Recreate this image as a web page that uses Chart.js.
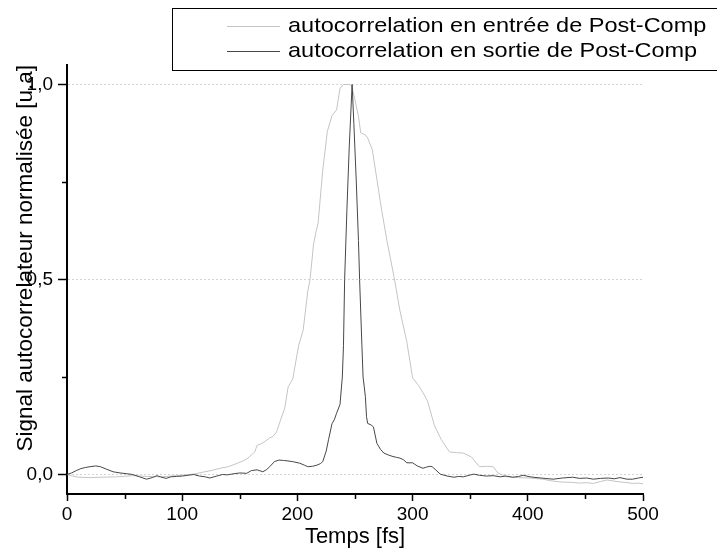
<!DOCTYPE html>
<html>
<head>
<meta charset="utf-8">
<title>Autocorrélation Post-Comp</title>
<script src="https://cdn.jsdelivr.net/npm/chart.js@4/dist/chart.umd.min.js"></script>
<style>
  html, body { margin: 0; padding: 0; background: #fff; }
  canvas { display: block; }
</style>
</head>
<body>
<canvas id="myChart" width="717" height="557"></canvas>
<script>
// legend labels
const seriesLabels = [
	"autocorrelation en entrée de Post-Comp",
	"autocorrelation en sortie de Post-Comp"
];

// entrée (light grey), time in fs / normalised signal
const timeIn = [
	0, 5, 10, 20, 30, 43, 57, 70, 81, 95, 110, 118, 125, 133, 140, 148, 153, 157, 160, 163,
	165, 168, 172, 176, 179, 182, 186, 189, 192, 196, 201, 205, 209, 211, 214, 216, 218, 222, 226, 230,
	234, 237, 240, 245, 247, 250, 253, 255, 259, 261, 265, 269, 273, 278, 284, 289, 295, 300, 305, 309,
	313, 319, 325, 332, 338, 344, 351, 358, 365, 370, 374, 382, 392, 402, 413, 420, 428, 437, 445, 452,
	457, 463, 469, 475, 480, 487, 491, 496, 500
];
const signalIn = [
	0.000, -0.004, -0.007, -0.008, -0.007, -0.006, -0.003, -0.005, -0.006, -0.003, 0.001, 0.006, 0.010, 0.016, 0.020, 0.029, 0.035, 0.042, 0.050, 0.058,
	0.075, 0.078, 0.085, 0.094, 0.098, 0.110, 0.145, 0.170, 0.225, 0.245, 0.330, 0.370, 0.470, 0.500, 0.590, 0.620, 0.645, 0.780, 0.880, 0.920,
	0.935, 0.990, 1.000, 1.000, 0.998, 0.960, 0.918, 0.876, 0.871, 0.863, 0.833, 0.757, 0.680, 0.595, 0.505, 0.420, 0.340, 0.248, 0.229, 0.210,
	0.188, 0.125, 0.089, 0.058, 0.056, 0.055, 0.045, 0.020, 0.021, 0.020, 0.004, -0.006, -0.008, -0.009, -0.012, -0.016, -0.019, -0.020, -0.022, -0.021,
	-0.023, -0.018, -0.014, -0.017, -0.019, -0.021, -0.023, -0.022, -0.024
];

// sortie (dark grey)
const timeOut = [
	0, 4, 8, 12, 16, 20, 25, 29, 34, 40, 46, 52, 57, 63, 69, 74, 78, 81, 86, 90,
	95, 100, 105, 110, 115, 120, 124, 130, 135, 139, 145, 150, 156, 160, 165, 170, 173, 176, 180, 184,
	188, 191, 196, 202, 206, 209, 213, 217, 220, 222, 225, 227, 230, 232, 234, 237, 239, 240, 241, 243,
	245, 247.5, 249, 251, 253, 254, 256, 257, 259, 260, 261, 264, 266, 269, 272, 275, 279, 283, 286, 289,
	292, 295, 300, 304, 309, 312, 315, 317, 320, 324, 330, 336, 340, 344, 349, 353, 358, 364, 370, 376,
	381, 387, 392, 396, 402, 408, 415, 422, 430, 439, 445, 451, 457, 463, 470, 475, 480, 486, 491, 496,
	500
];
const signalOut = [
	0.000, 0.004, 0.010, 0.015, 0.018, 0.020, 0.022, 0.020, 0.014, 0.007, 0.004, 0.002, 0.000, -0.006, -0.012, -0.008, -0.003, -0.006, -0.010, -0.006,
	-0.005, -0.004, -0.002, 0.000, -0.004, -0.006, -0.009, -0.004, 0.000, -0.001, 0.002, 0.004, 0.003, 0.010, 0.012, 0.007, 0.012, 0.020, 0.033, 0.037,
	0.036, 0.035, 0.033, 0.029, 0.024, 0.020, 0.021, 0.024, 0.028, 0.033, 0.060, 0.089, 0.130, 0.140, 0.157, 0.180, 0.250, 0.330, 0.500, 0.680,
	0.840, 1.000, 0.900, 0.760, 0.600, 0.500, 0.330, 0.250, 0.200, 0.148, 0.131, 0.127, 0.122, 0.080, 0.065, 0.055, 0.050, 0.046, 0.044, 0.042,
	0.038, 0.030, 0.030, 0.022, 0.016, 0.019, 0.021, 0.020, 0.012, 0.001, -0.004, -0.007, -0.005, -0.006, -0.002, 0.001, -0.002, -0.004, -0.003, -0.006,
	-0.004, -0.007, -0.005, -0.002, -0.006, -0.008, -0.010, -0.012, -0.009, -0.007, -0.010, -0.009, -0.012, -0.010, -0.009, -0.011, -0.008, -0.012, -0.012, -0.009,
	-0.007
];

const xTicks = [0, 100, 200, 300, 400, 500];
const xMinorTicks = [50, 150, 250, 350, 450];
const yTicks = [0, 0.5, 1.0];
const yMinorTicks = [0.25, 0.75];

const FONT = "'Liberation Sans', Arial, Helvetica, sans-serif";
Chart.defaults.font.family = FONT;
Chart.defaults.color = "#000";

const toPoints = (xs, ys) => xs.map((x, i) => ({ x: x, y: ys[i] }));

// short outward ticks between the labelled ones
const minorTicks = {
	id: "minorTicks",
	afterDraw(chart) {
		const { ctx, scales: { x, y } } = chart;
		ctx.save();
		ctx.strokeStyle = "#000";
		ctx.lineWidth = 1.5;
		ctx.beginPath();
		xMinorTicks.forEach(v => {
			const px = Math.round(x.getPixelForValue(v)) + 0.5;
			ctx.moveTo(px, x.top);
			ctx.lineTo(px, x.top + 5);
		});
		yMinorTicks.forEach(v => {
			const py = Math.round(y.getPixelForValue(v)) + 0.5;
			ctx.moveTo(y.right, py);
			ctx.lineTo(y.right - 5, py);
		});
		ctx.stroke();
		ctx.restore();
	}
};

// framed legend, top right like the original plot
const boxLegend = {
	id: "boxLegend",
	afterDraw(chart) {
		const ctx = chart.ctx;
		ctx.save();
		ctx.strokeStyle = "#000";
		ctx.lineWidth = 1;
		ctx.strokeRect(172.5, 8.5, 560, 62);
		ctx.font = "21px " + FONT;
		ctx.textBaseline = "middle";
		ctx.fillStyle = "#000";
		chart.data.datasets.forEach((ds, i) => {
			const y = 26 + i * 25;
			ctx.strokeStyle = ds.borderColor;
			ctx.beginPath();
			ctx.moveTo(227, y + 0.5);
			ctx.lineTo(280, y + 0.5);
			ctx.stroke();
			ctx.save();
			ctx.translate(288, y);
			ctx.scale(1.12, 1);
			ctx.fillText(ds.label, 0, 0);
			ctx.restore();
		});
		ctx.restore();
	}
};

new Chart(document.getElementById("myChart"), {
	type: "line",
	data: {
		datasets: [
			{
				label: seriesLabels[0],
				data: toPoints(timeIn, signalIn),
				borderColor: "#c4c4c4",
				borderWidth: 1,
				pointRadius: 0,
				order: 1
			},
			{
				label: seriesLabels[1],
				data: toPoints(timeOut, signalOut),
				borderColor: "#474747",
				borderWidth: 1,
				pointRadius: 0,
				order: 0
			}
		]
	},
	options: {
		responsive: false,
		animation: false,
		layout: { padding: { top: 65, right: 74, left: 0, bottom: 0 } },
		plugins: {
			legend: { display: false },
			tooltip: { enabled: false }
		},
		scales: {
			x: {
				type: "linear",
				min: 0,
				max: 500,
				afterBuildTicks: s => { s.ticks = xTicks.map(v => ({ value: v })); },
				afterFit: s => { s.height = 63; },
				ticks: { font: { size: 19 }, padding: 2, maxRotation: 0 },
				grid: { drawOnChartArea: false, tickLength: 7, tickColor: "#000", tickWidth: 1.5 },
				border: { color: "#000", width: 2 },
				title: {
					display: true,
					text: "Temps [fs]",
					font: { size: 22 },
					padding: { top: 0, bottom: 7 }
				}
			},
			y: {
				type: "linear",
				min: -0.05,
				max: 1.05,
				afterBuildTicks: s => { s.ticks = yTicks.map(v => ({ value: v })); },
				afterFit: s => { s.width = 67; },
				ticks: {
					font: { size: 19 },
					padding: 5,
					callback: v => v.toFixed(1).replace(".", ",")
				},
				grid: { color: "#d4d4d4", lineWidth: 1, tickLength: 9, tickColor: "#000", tickWidth: 1.5 },
				border: { color: "#000", width: 2, dash: [2, 2] },
				title: {
					display: true,
					text: "Signal autocorrelateur normalisée [u.a]",
					align: "end",
					font: { size: 22.5 },
					padding: { top: 12, bottom: 0 }
				}
			}
		}
	},
	plugins: [minorTicks, boxLegend]
});
</script>
</body>
</html>
